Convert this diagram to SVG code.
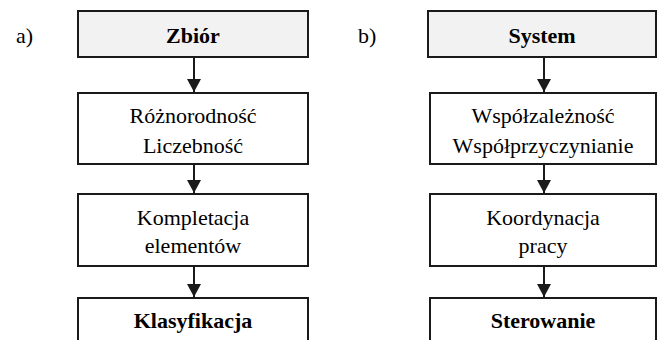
<svg xmlns="http://www.w3.org/2000/svg" width="662" height="340" viewBox="0 0 662 340">
  <style>
    .box { fill: #ffffff; stroke: #1a1a1a; stroke-width: 2; }
    .head { fill: #f2f2f2; }
    .conn { stroke: #1a1a1a; stroke-width: 2; fill: none; marker-end: url(#arr); }
  </style>
  <defs>
    <marker id="arr" markerUnits="userSpaceOnUse" markerWidth="14" markerHeight="14" refX="13" refY="7" orient="auto">
      <path d="M0,0 L13,7 L0,14 Z" fill="#1a1a1a"/>
    </marker>
  </defs>

  <rect width="662" height="340" fill="#ffffff"/>

  <!-- panel labels -->
  <text x="16" y="43" font-family="Liberation Serif" font-size="22">a)</text>
  <text x="358" y="43" font-family="Liberation Serif" font-size="22">b)</text>

  <!-- column a -->
  <g id="zbior">
    <rect class="box head" x="78" y="11" width="230" height="46"/>
    <text x="193" y="43" font-family="Liberation Serif" font-size="22" font-weight="bold" text-anchor="middle">Zbiór</text>
  </g>
  <g id="roznorodnosc">
    <rect class="box" x="78" y="93" width="230" height="71"/>
    <text x="193" y="123" font-family="Liberation Serif" font-size="22" text-anchor="middle">Różnorodność</text>
    <text x="193" y="153" font-family="Liberation Serif" font-size="22" text-anchor="middle">Liczebność</text>
  </g>
  <g id="kompletacja">
    <rect class="box" x="78" y="194" width="230" height="72"/>
    <text x="193" y="225" font-family="Liberation Serif" font-size="22" text-anchor="middle">Kompletacja</text>
    <text x="193" y="253" font-family="Liberation Serif" font-size="22" text-anchor="middle">elementów</text>
  </g>
  <g id="klasyfikacja">
    <rect class="box" x="78" y="298" width="230" height="60"/>
    <text x="193" y="328" font-family="Liberation Serif" font-size="22" font-weight="bold" text-anchor="middle">Klasyfikacja</text>
  </g>

  <!-- column b -->
  <g id="system">
    <rect class="box head" x="428" y="11" width="228" height="46"/>
    <text x="542" y="43" font-family="Liberation Serif" font-size="22" font-weight="bold" text-anchor="middle">System</text>
  </g>
  <g id="wspolzaleznosc">
    <rect class="box" x="430" y="93" width="226" height="71"/>
    <text x="543" y="123" font-family="Liberation Serif" font-size="22" text-anchor="middle">Współzależność</text>
    <text x="543" y="153" font-family="Liberation Serif" font-size="22" text-anchor="middle">Współprzyczynianie</text>
  </g>
  <g id="koordynacja">
    <rect class="box" x="430" y="194" width="226" height="72"/>
    <text x="543" y="225" font-family="Liberation Serif" font-size="22" text-anchor="middle">Koordynacja</text>
    <text x="543" y="253" font-family="Liberation Serif" font-size="22" text-anchor="middle">pracy</text>
  </g>
  <g id="sterowanie">
    <rect class="box" x="430" y="298" width="226" height="60"/>
    <text x="543" y="328" font-family="Liberation Serif" font-size="22" font-weight="bold" text-anchor="middle">Sterowanie</text>
  </g>

  <!-- connectors -->
  <g id="connectors">
    <line class="conn" x1="194" y1="57" x2="194" y2="92"/>
    <line class="conn" x1="194" y1="164" x2="194" y2="193"/>
    <line class="conn" x1="194" y1="266" x2="194" y2="297"/>
    <line class="conn" x1="544" y1="57" x2="544" y2="92"/>
    <line class="conn" x1="544" y1="164" x2="544" y2="193"/>
    <line class="conn" x1="544" y1="266" x2="544" y2="297"/>
  </g>
</svg>
